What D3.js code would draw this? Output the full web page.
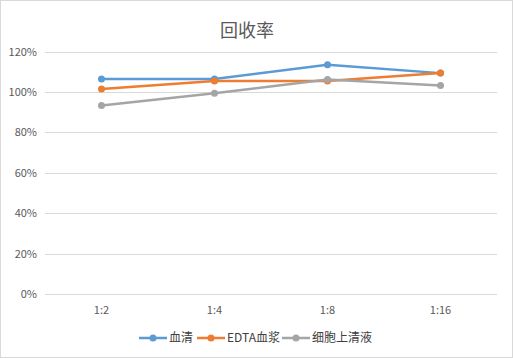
<!DOCTYPE html>
<html>
<head>
<meta charset="utf-8">
<script src="https://cdn.jsdelivr.net/npm/d3@7"></script>
<style>
  body { margin: 0; background: #fff; }
  svg { display: block; font-family: "Microsoft YaHei", "Noto Sans CJK SC", "DejaVu Sans", sans-serif; }
</style>
</head>
<body>
<svg id="chart" width="513" height="358"></svg>
<script>
const categories = ["1:2", "1:4", "1:8", "1:16"];
const seriesNames = ["血清", "EDTA血浆", "细胞上清液"];
const serum = [106.4, 106.4, 113.4, 109.3];
const edtaPlasma = [101.5, 105.4, 105.4, 109.4];
const supernatant = [93.3, 99.3, 106.2, 103.2];
const yTicks = [0, 20, 40, 60, 80, 100, 120];
const colors = ["#5b9bd5", "#ed7d31", "#a5a5a5"];

const svg = d3.select("#chart");
const allSeries = [serum, edtaPlasma, supernatant];

// outer border
svg.append("rect")
  .attr("x", 0.5).attr("y", 0.5)
  .attr("width", 512).attr("height", 357)
  .attr("fill", "#fff")
  .attr("stroke", "#d9d9d9");

svg.append("text")
  .text("回收率")
  .attr("x", 247).attr("y", 37)
  .attr("text-anchor", "middle")
  .style("font-size", "18px")
  .style("fill", "#595959");

const x = d3.scaleBand().domain(categories).range([45, 497]);
const y = d3.scaleLinear().domain([0, 120]).range([294, 51.5]);

// gridlines
svg.append("g")
  .selectAll("line")
  .data(yTicks)
  .join("line")
  .attr("x1", 45).attr("x2", 497)
  .attr("y1", d => Math.round(y(d)) + 0.5)
  .attr("y2", d => Math.round(y(d)) + 0.5)
  .attr("stroke", "#d9d9d9")
  .attr("stroke-width", 1);

// y labels
svg.append("g")
  .selectAll("text")
  .data(yTicks)
  .join("text")
  .text(d => d + "%")
  .attr("x", 37)
  .attr("y", d => y(d) + 4)
  .attr("text-anchor", "end")
  .style("font-size", "11px")
  .style("fill", "#595959");

// x labels
svg.append("g")
  .selectAll("text")
  .data(categories)
  .join("text")
  .text(d => d)
  .attr("x", d => x(d) + x.bandwidth() / 2)
  .attr("y", 314)
  .attr("text-anchor", "middle")
  .style("font-size", "11px")
  .style("fill", "#595959");

const line = d3.line()
  .x((d, i) => x(categories[i]) + x.bandwidth() / 2)
  .y(d => y(d));

allSeries.forEach((vals, si) => {
  const g = svg.append("g");
  g.append("path")
    .attr("d", line(vals))
    .attr("fill", "none")
    .attr("stroke", colors[si])
    .attr("stroke-width", 2.5)
    .attr("stroke-linejoin", "round");
  g.selectAll("circle")
    .data(vals)
    .join("circle")
    .attr("cx", (d, i) => x(categories[i]) + x.bandwidth() / 2)
    .attr("cy", d => y(d))
    .attr("r", 3.5)
    .attr("fill", colors[si]);
});

// legend
const legendItems = [
  { name: seriesNames[0], x: 139 },
  { name: seriesNames[1], x: 197 },
  { name: seriesNames[2], x: 282 }
];
legendItems.forEach((item, i) => {
  const g = svg.append("g");
  g.append("line")
    .attr("x1", item.x).attr("x2", item.x + 28)
    .attr("y1", 338).attr("y2", 338)
    .attr("stroke", colors[i])
    .attr("stroke-width", 2.5);
  g.append("circle")
    .attr("cx", item.x + 14).attr("cy", 338)
    .attr("r", 3.5)
    .attr("fill", colors[i]);
  g.append("text")
    .text(item.name)
    .attr("x", item.x + 30)
    .attr("y", 342)
    .style("font-size", "12px")
    .style("fill", "#404040");
});
</script>
</body>
</html>
